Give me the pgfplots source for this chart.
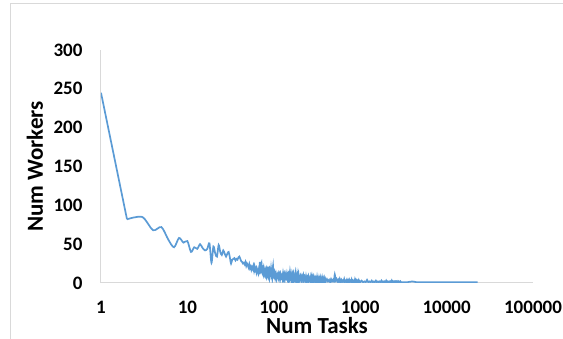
\documentclass[border=0pt]{standalone}
\usepackage{pgfplots}
\pgfplotsset{compat=1.18}
\usepackage{fontspec}
\setmainfont{Carlito}
\definecolor{lineblue}{HTML}{5B9BD5}
\definecolor{gridgray}{HTML}{D9D9D9}
\begin{document}
\begin{tikzpicture}[x=1pt,y=1pt]
\path[use as bounding box] (0,0) rectangle (563,339);
\draw[gridgray, line width=1pt] (10,0) -- (10,335) -- (563,335);
\begin{axis}[
  at={(101pt,56pt)}, anchor=south west,
  scale only axis, width=432pt, height=233pt,
  xmode=log, log basis x=10,
  xmin=1, xmax=100000, ymin=0, ymax=300,
  xtick={1,10,100,1000,10000,100000},
  xticklabels={1,10,100,1000,10000,100000},
  ytick={0,50,100,150,200,250,300},
  /pgf/number format/assume math mode=true,
  axis x line*=bottom, axis y line*=left,
  axis line style={gridgray, line width=1pt, -},
  major tick length=0pt,
  tick style={draw=none},
  every tick label/.append style={font=\fontsize{19}{21}\selectfont\bfseries, black},
  yticklabel style={xshift=-15pt},
  xticklabel style={yshift=-15pt},
  xlabel={Num Tasks}, ylabel={Num Workers},
  label style={font=\fontsize{23}{26}\selectfont\bfseries},
  xlabel style={at={(rel axis cs:0.5,0)}, anchor=base, yshift=-51pt},
  ylabel style={at={(rel axis cs:0,0.5)}, anchor=base, yshift=58pt},
  clip=true,
]
\addplot[lineblue, line width=1.7pt] coordinates {(1,245) (2,82)};
\addplot[lineblue, line width=1.7pt, smooth, tension=0.5] coordinates {
(2,82) (3,85) (4,68) (5,72) (6,56) (7,46) (8,58) (9,52) (10,54)
(11,40) (12,46) (13,44) (14,50) (15,45) (16,42) (17,44) (18,51) (19,26) (20,47)
(21,38) (22,34) (23,49) (24,40) (25,36) (26,42) (27,38) (28,34) (29,38) (30,40)
(31,33) (32,25) (33,30) (34,31) (35,32) (36,29) (37,31) (38,30) (39,33) (40,34)
(41,31) (42,28) (43,27) (44,25) (45,26) (46,24) (47,27) (48,22) (49,25) (50,23)
(51,20) (52,24) (53,19) (54,21) (55,17) (56,20) (57,18) (58,22) (59,16) (60,21)
(61,17) (62,19) (63,14) (64,18) (65,15) (66,12) (67,17) (68,13) (69,27) (70,14)
(71,20) (72,26) (73,15) (74,12) (75,16) (76,11) (77,19) (78,13) (79,10) (80,15)
(81,12) (82,17) (83,9) (84,14) (85,11) (86,21) (87,10) (88,13) (89,8) (90,15)
(91,11) (92,9) (93,18) (94,10) (95,12) (96,7) (97,14) (98,22) (99,11) (100,8)
(102,14) (104,6) (106,12) (108,5) (110,10) (112,13) (114,6) (116,11) (118,4) (120,12)
(122,7) (124,9) (126,5) (128,13) (130,6) (132,10) (134,4) (136,11) (138,7) (140,5)
(142,12) (144,6) (146,9) (148,4) (150,10) (152,5) (154,14) (156,6) (158,8) (160,4)
(162,11) (164,5) (166,9) (168,3) (170,10) (172,6) (174,8) (176,4) (178,12) (180,5)
(182,7) (184,3) (186,10) (188,5) (190,8) (192,3) (194,9) (196,4) (198,7) (200,5)
(204,9) (208,3) (212,8) (216,4) (220,10) (224,3) (228,7) (232,4) (236,9) (240,3)
(244,6) (248,2) (252,8) (256,4) (260,6) (264,2) (268,7) (272,3) (276,9) (280,3)
(284,6) (288,2) (292,7) (296,4) (300,6) (304,2) (308,5) (312,3) (316,7) (320,2)
(324,5) (328,3) (332,6) (336,2) (340,5) (344,3) (348,6) (352,2) (356,4) (360,2)
(364,6) (368,3) (372,5) (376,2) (380,4) (384,2) (388,5) (392,2) (396,4) (400,2)
(412,5) (424,2) (436,4) (448,1) (460,5) (472,2) (484,4) (496,2) (508,11) (520,3)
(532,5) (544,2) (556,4) (568,1) (580,5) (592,2) (604,4) (616,1) (628,3) (640,2)
(652,5) (664,1) (676,3) (688,2) (700,4) (712,1) (724,3) (736,1) (748,4) (760,2)
(772,3) (784,1) (796,4) (808,1) (820,3) (832,2) (844,3) (856,1) (868,4) (880,1)
(892,3) (904,1) (916,3) (928,2) (940,3) (952,1) (964,3) (976,1) (988,2) (1000,1)
(1040,3) (1080,1) (1120,2) (1160,1) (1200,4) (1240,1) (1280,2) (1320,1) (1360,3) (1400,1)
(1440,2) (1480,1) (1520,3) (1560,1) (1600,2) (1640,1) (1680,2) (1720,1) (1760,3) (1800,1)
(1840,2) (1880,1) (1920,2) (1960,1) (2000,3) (2040,1) (2080,2) (2120,1) (2160,2) (2200,1)
(2240,2) (2280,1) (2320,3) (2360,1) (2400,2) (2440,1) (2480,2) (2520,1) (2560,2) (2600,1)
(2640,2) (2680,1) (2720,2) (2760,1) (2800,2) (2840,1) (2880,1) (2920,2) (2960,1) (3000,1)
(3500,1) (4000,2) (4500,1) (5000,1) (6000,1) (7000,1) (8000,1) (9000,1) (10000,1)
(12000,1) (14000,1) (16000,1) (18000,1) (20000,1) (22900,1)
};
\end{axis}
\end{tikzpicture}
\end{document}
